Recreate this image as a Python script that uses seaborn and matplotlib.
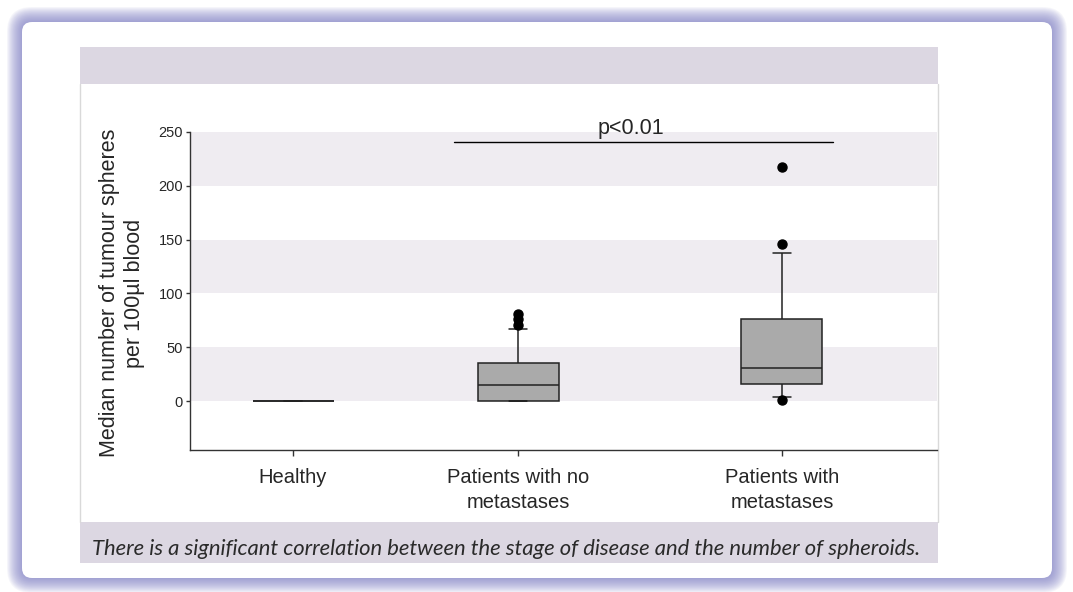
import matplotlib
matplotlib.use("Agg")
import matplotlib.pyplot as plt
from matplotlib.patches import FancyBboxPatch, Rectangle
from matplotlib.transforms import IdentityTransform
import pandas as pd
import seaborn as sns

# groups shown on the x axis
groups = ["Healthy", "Patients with no\nmetastases", "Patients with\nmetastases"]

# sphere counts per 100ul blood, chosen so the box/whisker/outlier
# positions read off the figure come out the same
healthy = [0, 0, 0, 0, 0, 0, 0, 0, 0, 0]
no_metastases = [0, 0, 0, 0, 0, 0, 0, 0, 0, 2, 4, 6, 9, 12, 14,
                 16, 19, 22, 25, 28, 31, 33, 36, 42, 48, 55, 67, 71, 76, 81]
metastases = [1, 4, 8, 11, 14, 16, 20, 24, 27, 30,
              32, 45, 58, 70, 74, 82, 105, 138, 146, 217]

y_ticks = [0, 50, 100, 150, 200, 250]
band_ranges = [(0, 50), (100, 150), (200, 250)]
p_label = "p<0.01"
y_label = "Median number of tumour spheres\nper 100\u00b5l blood"
caption = ("There is a significant correlation between the stage of disease "
           "and the number of spheroids.")

# the original spaces the groups a little unevenly
group_pos = [0, 1, 2.173]

df = pd.DataFrame({
    "pos": [group_pos[0]] * len(healthy) + [group_pos[1]] * len(no_metastases)
           + [group_pos[2]] * len(metastases),
    "spheres": healthy + no_metastases + metastases,
})

W, H = 1073, 592
sns.set_theme(style="ticks")
plt.rcParams["font.family"] = ["Liberation Sans", "DejaVu Sans"]

fig = plt.figure(figsize=(W / 100, H / 100), dpi=100)
fig.patch.set_facecolor("white")


def px_rect(x0, y0, x1, y1):
    # rectangle in image pixels, y measured from the top
    return (x0, H - y1), x1 - x0, y1 - y0


# soft bluish shadow round the white panel
for k in range(15, 0, -1):
    xy, w, h = px_rect(22 - k, 22 - k, 1052 + k, 578 + k)
    fig.add_artist(FancyBboxPatch(xy, w, h,
                                  boxstyle="round,pad=0,rounding_size=%d" % (10 + k),
                                  transform=IdentityTransform(), zorder=-20,
                                  facecolor="#7c7cc4", edgecolor="none", alpha=0.07))
xy, w, h = px_rect(22, 22, 1052, 578)
fig.add_artist(FancyBboxPatch(xy, w, h, boxstyle="round,pad=0,rounding_size=10",
                              transform=IdentityTransform(), zorder=-10,
                              facecolor="white", edgecolor="none"))

# header and caption bands of the inner card
for y0, y1 in [(47, 84), (522, 563)]:
    xy, w, h = px_rect(80, y0, 938, y1)
    fig.add_artist(Rectangle(xy, w, h, transform=IdentityTransform(), zorder=-5,
                             facecolor="#dcd7e2", edgecolor="none"))
for x in (80, 938):
    fig.add_artist(plt.Line2D([x, x], [H - 522, H - 84], transform=IdentityTransform(),
                              color="#d9d9d9", lw=1, zorder=-5))

ax = fig.add_axes([190 / W, 1 - 450 / H, (937 - 190) / W, (450 - 100) / H])
ax.set_facecolor("none")

for lo, hi in band_ranges:
    ax.axhspan(lo, hi, color="#efecf1", lw=0, zorder=0)

box_w = 0.36
sns.boxplot(data=df, x="pos", y="spheres", native_scale=True, ax=ax,
            color="#aaaaaa", saturation=1, width=box_w, whis=(2, 91),
            linecolor="#222222", linewidth=1.1, fliersize=6.5,
            flierprops=dict(marker="o", markerfacecolor="black",
                            markeredgecolor="black"))

# narrow whisker caps like the original
for line in ax.lines:
    xs, ys = line.get_xdata(), line.get_ydata()
    if len(xs) == 2 and ys[0] == ys[1] and abs(xs[1] - xs[0]) < 0.8 * box_w:
        mid = (xs[0] + xs[1]) / 2
        line.set_xdata([mid - 0.04, mid + 0.04])

ax.set_xlim(-0.458, 2.862)
ax.set_ylim(-45.5, 279.7)
ax.set_yticks(y_ticks)
ax.set_xticks(group_pos, groups)
ax.set_xlabel("")
ax.set_ylabel("")

# significance bar
ax.plot([0.716, 2.4], [241, 241], color="black", lw=1)
ax.text(1.5, 248, p_label, ha="center", va="baseline", fontsize=15.5)

for side in ("top", "right"):
    ax.spines[side].set_visible(False)
ax.spines["left"].set_bounds(-45.5, 250)
for side in ("left", "bottom"):
    ax.spines[side].set_color("#333333")
    ax.spines[side].set_linewidth(1)
ax.tick_params(axis="y", length=3, width=1, pad=2, labelsize=10.5, color="#333333")
ax.tick_params(axis="x", length=4, width=1, pad=9, labelsize=14.5, color="#333333")
for lab in ax.get_xticklabels():
    lab.set_linespacing(1.4)

fig.text(122 / W, 1 - 293 / H, y_label, rotation=90, ha="center", va="center",
         fontsize=15.5, linespacing=1.2)
fig.text(92 / W, 1 - 549 / H, caption, ha="left", va="center", fontsize=15.8,
         style="italic", family=["Lato", "DejaVu Sans"], color="#2a2a2a")

fig.savefig("out.png", dpi=100)
